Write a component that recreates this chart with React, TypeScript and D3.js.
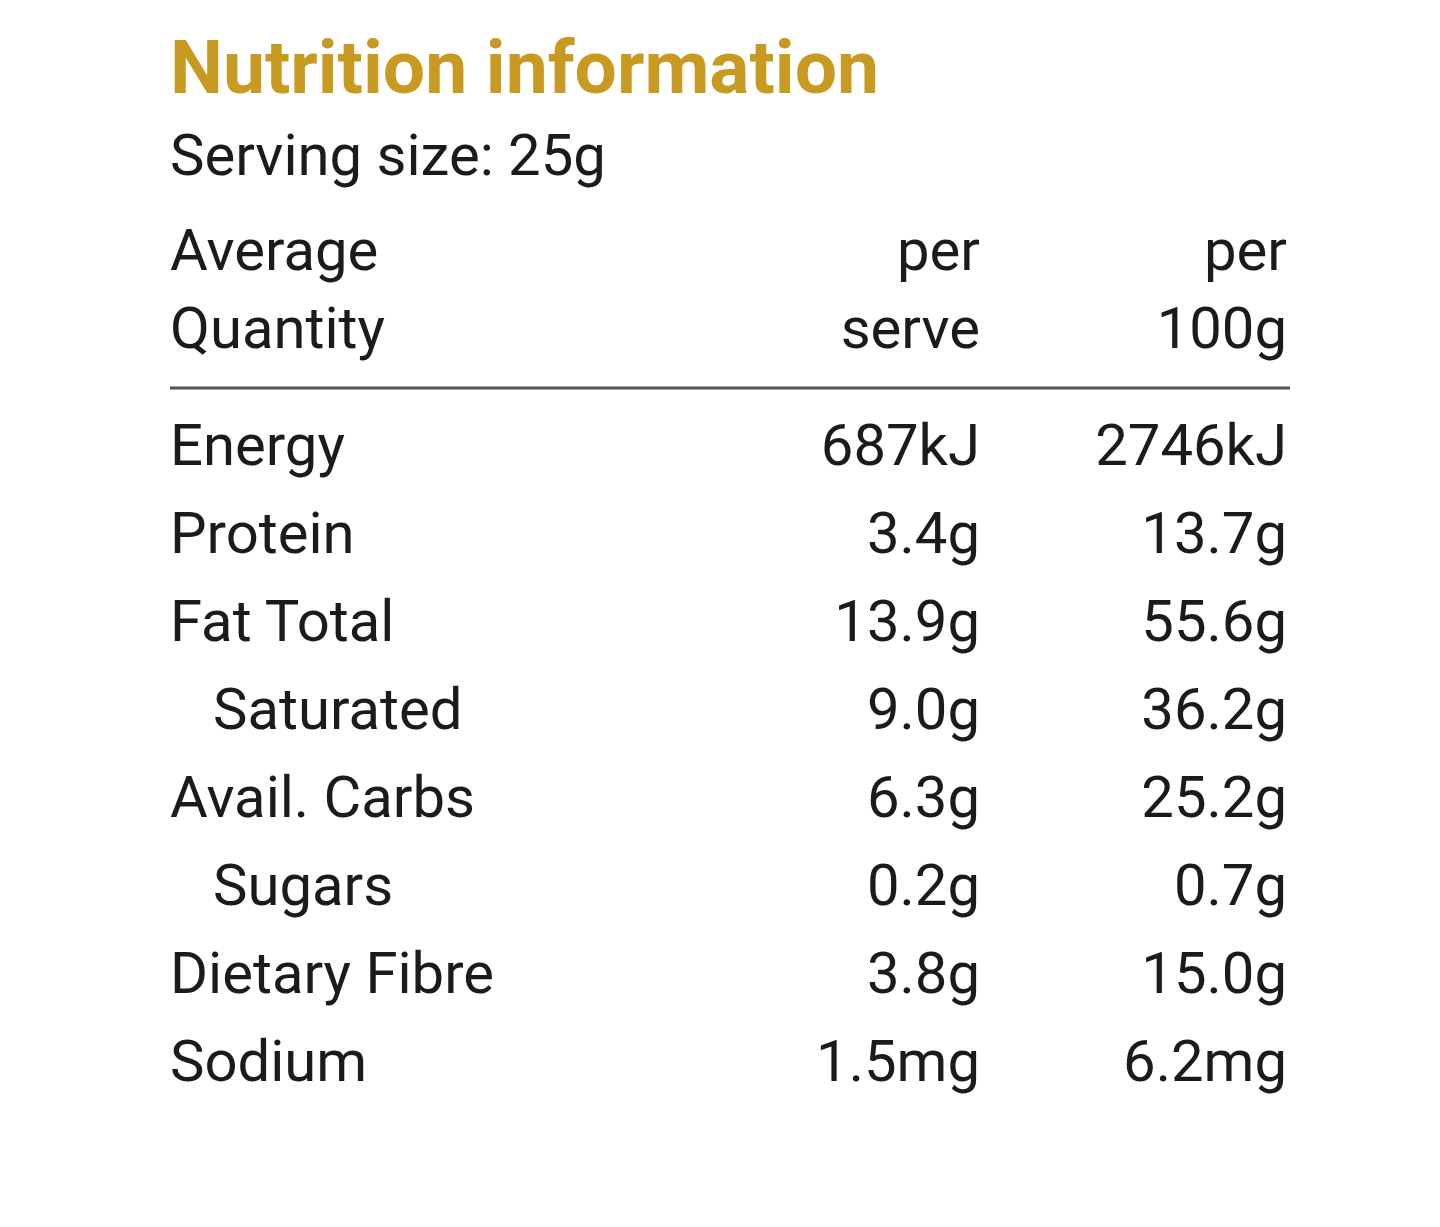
import React from 'react';
import * as d3 from 'd3';

const title = 'Nutrition information';
const servingSize = 'Serving size: 25g';
const headerLabel = ['Average', 'Quantity'];
const headerServe = ['per', 'serve'];
const header100g = ['per', '100g'];

const nutrients = ['Energy', 'Protein', 'Fat Total', 'Saturated', 'Avail. Carbs', 'Sugars', 'Dietary Fibre', 'Sodium'];
const indented = [false, false, false, true, false, true, false, false];
const perServe = ['687kJ', '3.4g', '13.9g', '9.0g', '6.3g', '0.2g', '3.8g', '1.5mg'];
const per100g = ['2746kJ', '13.7g', '55.6g', '36.2g', '25.2g', '0.7g', '15.0g', '6.2mg'];

const App = () => {
  const width = 1440;
  const height = 1227;
  const left = 170;
  const font = 'Roboto, "Noto Sans", sans-serif';
  const ink = '#1b1b1b';
  const fs = 58;

  // row baselines
  const y = d3.scaleLinear().domain([0, nutrients.length - 1]).range([465, 1081]);
  const yHead = d3.scaleLinear().domain([0, 1]).range([270, 348]);
  // right edges of the two value columns
  const col = d3.scaleOrdinal<string, number>().domain(['serve', '100g']).range([980, 1287]);

  return (
    <svg
      width={width}
      height={height}
      style={{ position: 'absolute', left: 0, top: 0, display: 'block', background: '#fff' }}
    >
      <rect x={0} y={0} width={width} height={height} fill="#fff" />
      <text x={left} y={93} fontFamily={font} fontWeight={700} fontSize={75} fill="#C99A22">
        {title}
      </text>
      <text x={left} y={175} fontFamily={font} fontSize={58} fill={ink}>
        {servingSize}
      </text>

      {headerLabel.map((t, i) => (
        <text key={'hl' + i} x={left} y={yHead(i)} fontFamily={font} fontSize={fs} fill={ink}>
          {t}
        </text>
      ))}
      {headerServe.map((t, i) => (
        <text key={'hs' + i} x={col('serve')} y={yHead(i)} textAnchor="end" fontFamily={font} fontSize={fs} fill={ink}>
          {t}
        </text>
      ))}
      {header100g.map((t, i) => (
        <text key={'hg' + i} x={col('100g')} y={yHead(i)} textAnchor="end" fontFamily={font} fontSize={fs} fill={ink}>
          {t}
        </text>
      ))}

      <line x1={left} x2={1290} y1={388} y2={388} stroke="#555" strokeWidth={3} />

      {nutrients.map((n, i) => (
        <g key={n}>
          <text x={indented[i] ? left + 43 : left} y={y(i)} fontFamily={font} fontSize={fs} fill={ink}>
            {n}
          </text>
          <text x={col('serve')} y={y(i)} textAnchor="end" fontFamily={font} fontSize={fs} fill={ink}>
            {perServe[i]}
          </text>
          <text x={col('100g')} y={y(i)} textAnchor="end" fontFamily={font} fontSize={fs} fill={ink}>
            {per100g[i]}
          </text>
        </g>
      ))}
    </svg>
  );
};

export default App;
